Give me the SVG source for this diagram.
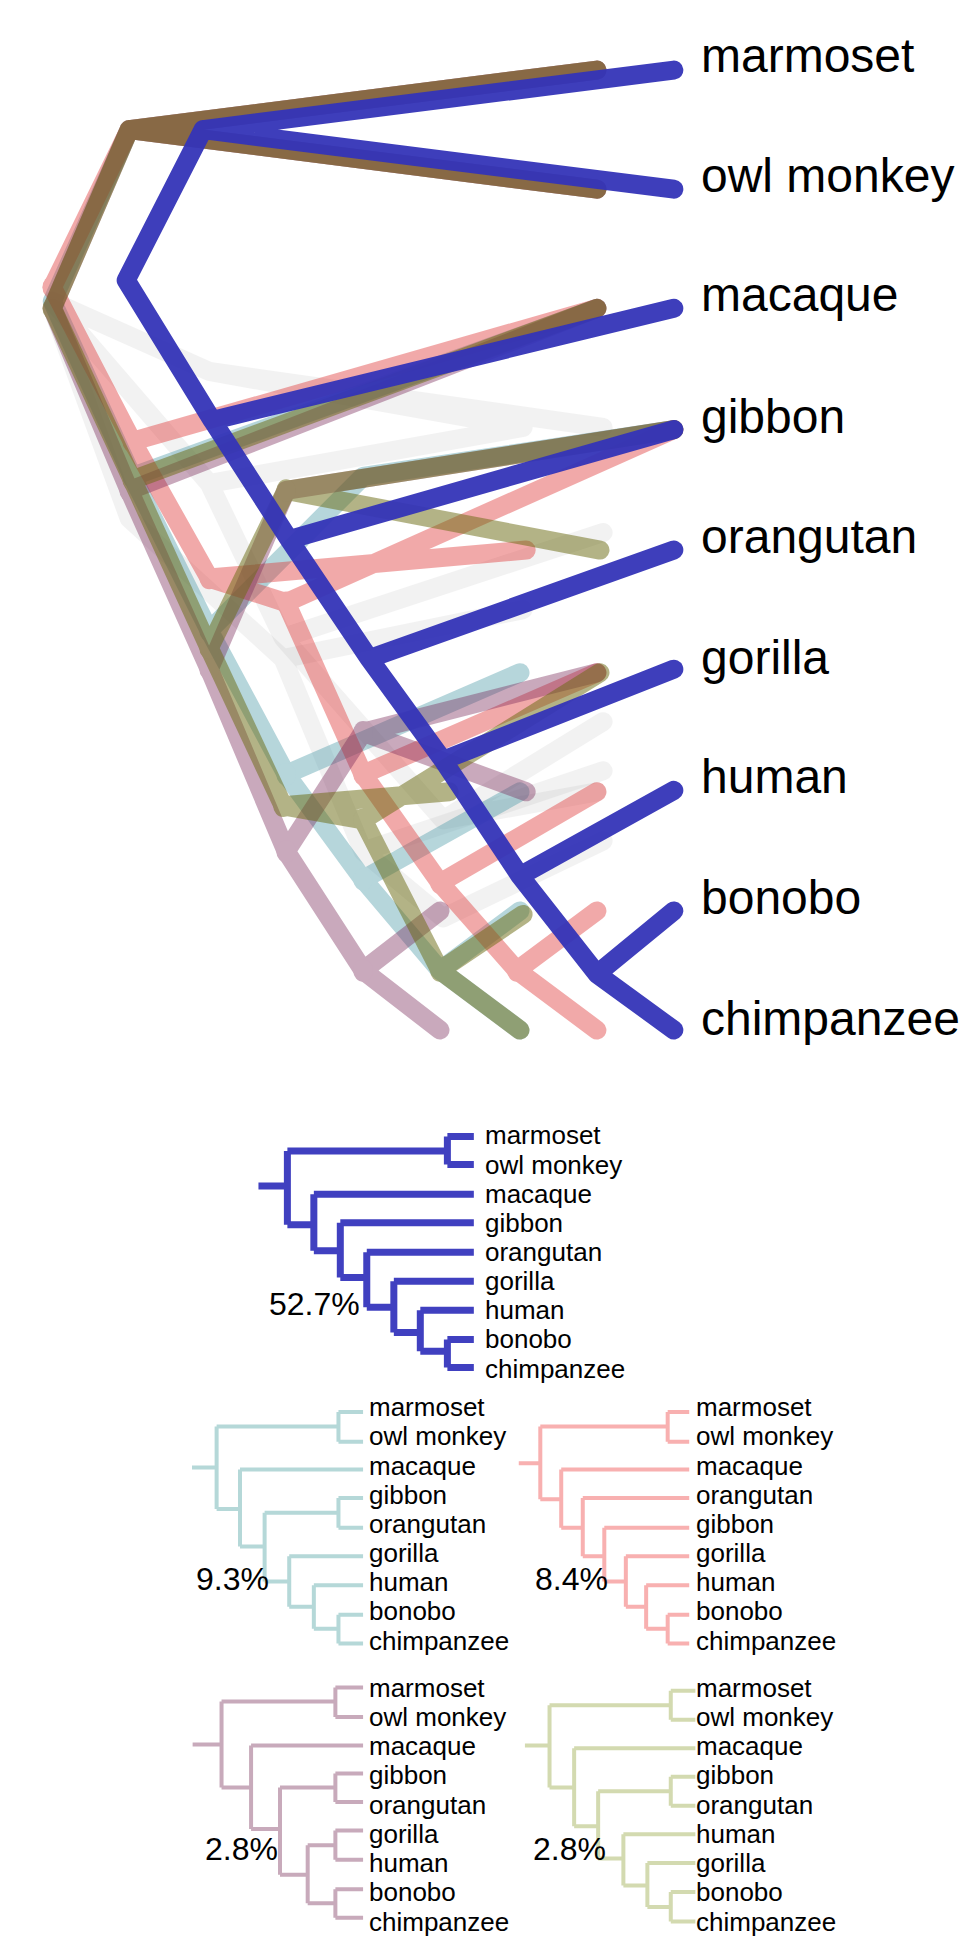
<svg xmlns="http://www.w3.org/2000/svg" width="963" height="1951" viewBox="0 0 963 1951">
<style>
.t path{fill:none;stroke-linecap:round;stroke-linejoin:round;stroke-width:19;vector-effect:non-scaling-stroke}
.lab{font-family:"Liberation Sans",Arial,sans-serif;font-size:48px;fill:#000}
.sl{font-family:"Liberation Sans",Arial,sans-serif;font-size:26px;fill:#000}
.pc{font-family:"Liberation Sans",Arial,sans-serif;font-size:32px;fill:#000}
.s path{fill:none;stroke-width:4;vector-effect:non-scaling-stroke}
</style>
<rect width="963" height="1951" fill="#fff"/>
<g id="main" transform="scale(0.61538,0.7007)">
<g id="connectors">
<g class="t" opacity="0.12" id="grey1"><path stroke="#999" d="M85 430 L340 530 L850 610 M340 530 L980 610 M85 430 L340 690 L850 610 M340 690 L460 910 L980 760 M460 910 L720 1170 L970 1130 M720 1170 L980 1030"/></g>
<g class="t" opacity="0.12" id="grey2"><path stroke="#999" d="M85 440 L210 740 L460 940 L850 870 M460 940 L590 1215 L980 1100 M590 1215 L720 1310 L980 1200"/></g>
<g class="t" opacity="0.4" id="teal"><path stroke="#4a9aa8" d="M85 430 L210 185 L970 100 M210 185 L970 270 M85 430 L215 680 L970 440 M215 680 L340 900 L590 680 L1095 613 M340 900 L465 1105 L845 960 M465 1105 L590 1255 L845 1130 M590 1255 L715 1385 L845 1470 M715 1385 L845 1300"/><g fill="#4a9aa8"><circle cx="215" cy="680" r="16"/><circle cx="340" cy="900" r="16"/><circle cx="465" cy="1105" r="16"/><circle cx="590" cy="1255" r="16"/></g></g>
<g class="t" opacity="0.42" id="red"><path stroke="#e03535" d="M85 410 L210 185 L970 100 M210 185 L970 270 M85 410 L215 630 L970 440 M215 630 L340 825 L855 785 M340 825 L465 860 L1095 613 M465 860 L590 1105 L970 960 M590 1105 L715 1260 L970 1130 M715 1260 L840 1385 L970 1470 M840 1385 L970 1300"/><g fill="#e03535"><circle cx="85" cy="410" r="16"/><circle cx="215" cy="630" r="16"/><circle cx="340" cy="825" r="16"/><circle cx="465" cy="860" r="16"/><circle cx="590" cy="1105" r="16"/><circle cx="715" cy="1260" r="16"/><circle cx="840" cy="1385" r="16"/></g></g>
<g class="t" opacity="0.4" id="mauve"><path stroke="#7a2a5a" d="M85 440 L210 185 L970 100 M210 185 L970 270 M85 440 L210 700 L970 440 M210 700 L340 955 L465 700 L1095 613 M340 955 L465 1215 L590 1045 L855 1130 M590 1045 L970 960 M465 1215 L590 1385 L715 1470 M590 1385 L715 1300"/><g fill="#7a2a5a"><circle cx="210" cy="700" r="16"/><circle cx="340" cy="955" r="16"/><circle cx="465" cy="1215" r="16"/><circle cx="590" cy="1045" r="16"/><circle cx="590" cy="1385" r="16"/></g></g>
<g class="t" opacity="0.5" id="olive"><path stroke="#6a6a10" d="M85 440 L210 185 L970 100 M210 185 L970 270 M85 440 L215 685 L970 440 M215 685 L340 925 L465 700 L1095 613 M465 700 L975 785 M340 925 L460 1150 L730 1130 M460 1150 L590 1170 L975 960 M590 1170 L715 1385 L845 1470 M715 1385 L850 1305"/><g fill="#6a6a10"><circle cx="85" cy="440" r="16"/><circle cx="215" cy="685" r="16"/><circle cx="340" cy="925" r="16"/><circle cx="465" cy="700" r="16"/><circle cx="460" cy="1150" r="16"/><circle cx="590" cy="1170" r="16"/><circle cx="715" cy="1385" r="16"/></g></g>
<g class="t" opacity="0.95" id="blue"><path stroke="#3434b8" d="M205 400 L330 185 L1095 100 M330 185 L1095 270 M205 400 L345 600 L470 770 L600 940 L720 1085 L845 1250 L970 1390 L1095 1470 M970 1390 L1095 1300 M845 1250 L1095 1128 M720 1085 L1095 955 M600 940 L1095 785 M470 770 L1095 613 M345 600 L1095 440"/></g>
</g>
</g>
<g id="labels" class="lab">
<text x="701" y="72">marmoset</text>
<text x="701" y="192">owl monkey</text>
<text x="701" y="311">macaque</text>
<text x="701" y="433">gibbon</text>
<text x="701" y="553">orangutan</text>
<text x="701" y="674">gorilla</text>
<text x="701" y="793">human</text>
<text x="701" y="914">bonobo</text>
<text x="701" y="1035">chimpanzee</text>
</g>
<g transform="translate(0,1100) scale(0.61538,0.538)">
<g id="tree-blue" class="s"><path stroke="#4040c0" style="stroke-width:7" d="M420 160H467 M467 95V232 M467 95H727 M727 68V120 M727 68H770 M727 120H770 M467 232H510 M510 175V280 M510 175H770 M510 280H553 M553 228V330 M553 228H770 M553 330H596 M596 283V385 M596 283H770 M596 385H640 M640 337V432 M640 337H770 M640 432H683 M683 391V467 M683 391H770 M683 467H727 M727 445V497 M727 445H770 M727 497H770"/></g>
<g id="tree-teal" class="s"><path stroke="#b5d8d8" d="M312 683H352 M352 607V760 M352 607H550 M550 580V635 M550 580H590 M550 635H590 M352 760H390 M390 687V830 M390 687H590 M390 830H430 M430 767V895 M430 767H550 M550 740V795 M550 740H590 M550 795H590 M430 895H470 M470 848V942 M470 848H590 M470 942H510 M510 902V983 M510 902H590 M510 983H550 M550 957V1010 M550 957H590 M550 1010H590"/></g>
<g id="tree-red" class="s"><path stroke="#f8b0b0" d="M843 675H878 M878 607V742 M878 607H1085 M1085 580V635 M1085 580H1120 M1085 635H1120 M878 742H912 M912 687V795 M912 687H1120 M912 795H947 M947 740V848 M947 740H1120 M947 848H982 M982 795V895 M982 795H1120 M982 895H1017 M1017 848V942 M1017 848H1120 M1017 942H1050 M1050 902V983 M1050 902H1120 M1050 983H1085 M1085 957V1010 M1085 957H1120 M1085 1010H1120"/></g>
<g id="tree-mauve" class="s"><path stroke="#c8aabb" d="M313 1198H360 M360 1118V1278 M360 1118H545 M545 1092V1147 M545 1092H590 M545 1147H590 M360 1278H408 M408 1200V1355 M408 1200H590 M408 1355H455 M455 1278V1440 M455 1278H545 M545 1252V1305 M545 1252H590 M545 1305H590 M455 1440H500 M500 1385V1493 M500 1385H545 M545 1358V1412 M545 1358H590 M545 1412H590 M500 1493H545 M545 1467V1520 M545 1467H590 M545 1520H590"/></g>
<g id="tree-olive" class="s"><path stroke="#d3dab0" d="M853 1200H893 M893 1125V1278 M893 1125H1090 M1090 1098V1152 M1090 1098H1130 M1090 1152H1130 M893 1278H933 M933 1205V1350 M933 1205H1130 M933 1350H972 M972 1285V1410 M972 1285H1090 M1090 1258V1312 M1090 1258H1130 M1090 1312H1130 M972 1410H1013 M1013 1365V1460 M1013 1365H1130 M1013 1460H1052 M1052 1418V1500 M1052 1418H1130 M1052 1500H1090 M1090 1472V1527 M1090 1472H1130 M1090 1527H1130"/></g>
</g>
<g id="small-labels" class="sl">
<text x="485" y="1144">marmoset</text><text x="485" y="1174">owl monkey</text><text x="485" y="1203">macaque</text><text x="485" y="1232">gibbon</text><text x="485" y="1261">orangutan</text><text x="485" y="1290">gorilla</text><text x="485" y="1319">human</text><text x="485" y="1348">bonobo</text><text x="485" y="1378">chimpanzee</text>
<text x="369" y="1416">marmoset</text><text x="369" y="1445">owl monkey</text><text x="369" y="1475">macaque</text><text x="369" y="1504">gibbon</text><text x="369" y="1533">orangutan</text><text x="369" y="1562">gorilla</text><text x="369" y="1591">human</text><text x="369" y="1620">bonobo</text><text x="369" y="1650">chimpanzee</text>
<text x="696" y="1416">marmoset</text><text x="696" y="1445">owl monkey</text><text x="696" y="1475">macaque</text><text x="696" y="1504">orangutan</text><text x="696" y="1533">gibbon</text><text x="696" y="1562">gorilla</text><text x="696" y="1591">human</text><text x="696" y="1620">bonobo</text><text x="696" y="1650">chimpanzee</text>
<text x="369" y="1697">marmoset</text><text x="369" y="1726">owl monkey</text><text x="369" y="1755">macaque</text><text x="369" y="1784">gibbon</text><text x="369" y="1814">orangutan</text><text x="369" y="1843">gorilla</text><text x="369" y="1872">human</text><text x="369" y="1901">bonobo</text><text x="369" y="1931">chimpanzee</text>
<text x="696" y="1697">marmoset</text><text x="696" y="1726">owl monkey</text><text x="696" y="1755">macaque</text><text x="696" y="1784">gibbon</text><text x="696" y="1814">orangutan</text><text x="696" y="1843">human</text><text x="696" y="1872">gorilla</text><text x="696" y="1901">bonobo</text><text x="696" y="1931">chimpanzee</text>
</g>
<g id="percents" class="pc">
<text x="269" y="1315">52.7%</text><text x="196" y="1590">9.3%</text><text x="535" y="1590">8.4%</text><text x="205" y="1860">2.8%</text><text x="533" y="1860">2.8%</text>
</g>
</svg>
